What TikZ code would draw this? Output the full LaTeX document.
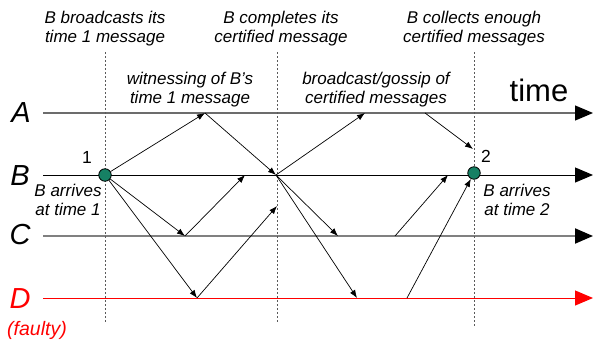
\documentclass[tikz,border=0pt]{standalone}
\usepackage{fontspec}
\setmainfont{Liberation Sans}
\usepackage{xcolor}
\usepackage{tikz}
\usetikzlibrary{arrows.meta}

\definecolor{dotgreen}{RGB}{22,128,100}

\begin{document}
\begin{tikzpicture}[x=1pt, y=-1pt]
    % Define styles
    \tikzstyle{note} = [font=\fontsize{17}{19}\selectfont\itshape, align=center, inner sep=0pt]
    \tikzstyle{proc} = [font=\fontsize{29}{29}\selectfont\itshape, inner sep=0pt]
    \tikzstyle{num} = [font=\fontsize{17.5}{17.5}\selectfont, inner sep=0pt]
    \tikzstyle{timeline} = [line width=1pt, -{Triangle[length=18pt,width=15pt,color=black]}]
    \tikzstyle{marker} = [line width=0.8pt, gray!70!black, dash pattern=on 2pt off 2pt]
    \tikzstyle{event} = [circle, draw=black, fill=dotgreen, minimum size=12.5pt, inner sep=0pt, line width=0.8pt]
    \tikzstyle{arrow} = [line width=0.7pt, -{Latex[length=8pt,width=6pt]}]

    \useasboundingbox (0,0) rectangle (594,343);

    % Timelines
    \coordinate (Astart) at (43,113);
    \coordinate (Aend) at (593,113);
    \coordinate (Bstart) at (43,175);
    \coordinate (Bend) at (593,175);
    \coordinate (Cstart) at (43,236);
    \coordinate (Cend) at (593,236);
    \coordinate (Dstart) at (43,298);
    \coordinate (Dend) at (593,298);
    \draw [timeline, gray!85!black, line width=1.2pt] (Astart) -- (Aend);
    \draw [timeline, black] (Bstart) -- (Bend);
    \draw [timeline, gray, line width=2pt] (Cstart) -- (Cend);
    \draw [timeline, red, -{Triangle[length=18pt,width=15pt,color=red]}] (Dstart) -- (Dend);

    % Event markers
    \coordinate (top1) at (105,52);
    \coordinate (bot1) at (105,323);
    \coordinate (top2) at (277,52);
    \coordinate (bot2) at (277,323);
    \coordinate (top3) at (474,52);
    \coordinate (bot3) at (474,327);
    \draw [marker] (top1) -- (bot1);
    \draw [marker] (top2) -- (bot2);
    \draw [marker] (top3) -- (bot3);

    % Nodes
    \node [proc] (A) at (21,113) {A};
    \node [proc] (B) at (20,176) {B};
    \node [proc] (C) at (20,235) {C};
    \node [proc, red] (D) at (20,299) {D};
    \node [note, red, font=\fontsize{19.5}{19.5}\selectfont\itshape] (faulty) at (37,330) {(faulty)};

    \node [note] (bcast) at (105,29) {B broadcasts its\\time 1 message};
    \node [note] (compl) at (281,29) {B completes its\\certified message};
    \node [note] (collect) at (474,29) {B collects enough\\certified messages};
    \node [note] (witness) at (190,90) {witnessing of B’s\\time 1 message};
    \node [note] (gossip) at (376,90) {broadcast/gossip of\\certified messages};
    \node [inner sep=0pt, font=\fontsize{31}{31}\selectfont] (time) at (539,90) {time};
    \node [note] (arr1) at (68,200) {B arrives\\at time 1};
    \node [note] (arr2) at (517,200) {B arrives\\at time 2};

    \node [event] (ev1) at (105,175) {};
    \node [event] (ev2) at (474,173) {};
    \node [num] (n1) at (87,157) {1};
    \node [num] (n2) at (486,156) {2};

    % Message points
    \coordinate (a1) at (205,113);
    \coordinate (b1) at (276,175);
    \coordinate (c1) at (185,236);
    \coordinate (b2) at (245,175);
    \coordinate (d1) at (197,298);
    \coordinate (m1) at (277,206);
    \coordinate (a2) at (365,113);
    \coordinate (c2) at (338,236);
    \coordinate (d2) at (357,298);
    \coordinate (a3) at (425,113);
    \coordinate (m2) at (473,149);
    \coordinate (c3) at (395,236);
    \coordinate (b3) at (448,175);
    \coordinate (d3) at (407,298);

    % Arrows
    \draw [arrow] (ev1) -- (a1);
    \draw [arrow] (a1) -- (b1);
    \draw [arrow] (ev1) -- (c1);
    \draw [arrow] (c1) -- (b2);
    \draw [arrow] (ev1) -- (d1);
    \draw [arrow] (d1) -- (m1);
    \draw [arrow] (b1) -- (a2);
    \draw [arrow] (b1) -- (c2);
    \draw [arrow] (b1) -- (d2);
    \draw [arrow] (a3) -- (m2);
    \draw [arrow] (c3) -- (b3);
    \draw [arrow] (d3) -- (ev2);

\end{tikzpicture}
\end{document}
